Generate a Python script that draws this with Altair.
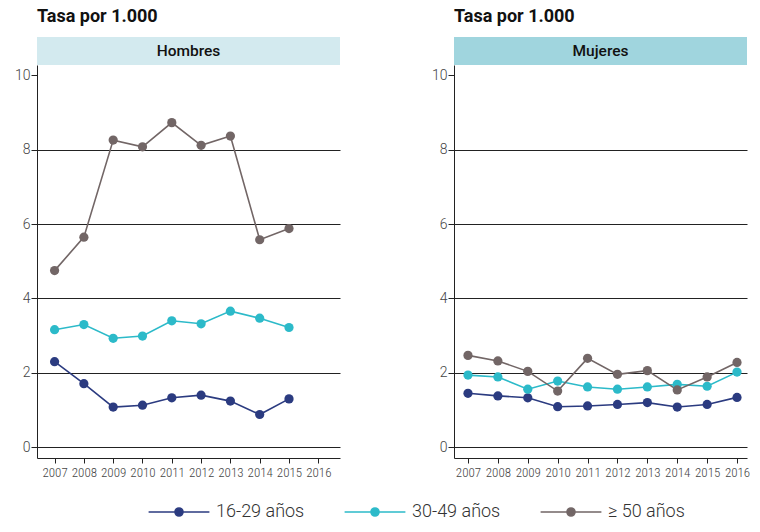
import altair as alt
import pandas as pd

years = [2007, 2008, 2009, 2010, 2011, 2012, 2013, 2014, 2015, 2016]
groups = ["16-29 años", "30-49 años", "≥ 50 años"]
colors = ["#2b3b80", "#2cbac9", "#726666"]

# Hombres (no 2016 data)
hombres_16_29 = [2.30, 1.71, 1.08, 1.13, 1.33, 1.40, 1.24, 0.88, 1.30, None]
hombres_30_49 = [3.16, 3.30, 2.93, 2.99, 3.40, 3.32, 3.66, 3.47, 3.22, None]
hombres_50 = [4.75, 5.65, 8.26, 8.08, 8.73, 8.12, 8.37, 5.58, 5.88, None]

# Mujeres
mujeres_16_29 = [1.45, 1.38, 1.33, 1.09, 1.11, 1.15, 1.20, 1.08, 1.15, 1.34]
mujeres_30_49 = [1.94, 1.89, 1.56, 1.78, 1.62, 1.56, 1.62, 1.69, 1.64, 2.02]
mujeres_50 = [2.47, 2.32, 2.04, 1.51, 2.39, 1.96, 2.06, 1.54, 1.89, 2.28]

y_ticks = [0, 2, 4, 6, 8, 10]

rows = []
for sexo, series in [("Hombres", [hombres_16_29, hombres_30_49, hombres_50]),
                     ("Mujeres", [mujeres_16_29, mujeres_30_49, mujeres_50])]:
    for g, vals in zip(groups, series):
        for yr, v in zip(years, vals):
            if v is not None:
                rows.append({"sexo": sexo, "grupo": g, "year": yr, "value": v})
df = pd.DataFrame(rows)

NARROW = "Roboto Condensed, DejaVu Sans Condensed, sans-serif"
REG = "Roboto, DejaVu Sans, sans-serif"

legend = alt.Legend(
    orient="none", direction="horizontal", title=None,
    legendX=133, legendY=466,
    symbolType="M-7.6,0L7.6,0M1,0A1,1,0,1,1,-1,0A1,1,0,1,1,1,0Z",
    symbolSize=64, symbolStrokeWidth=1.6,
    labelFont=REG, labelFontSize=18, labelFontWeight=300, labelColor="#333333",
    labelOffset=28, columnPadding=36,
)

color = alt.Color("grupo:N", scale=alt.Scale(domain=groups, range=colors), legend=legend)


def panel(sexo, strip_color, x_domain, width):
    base = alt.Chart(df[df["sexo"] == sexo])
    x = alt.X("year:Q", scale=alt.Scale(domain=x_domain, nice=False, zero=False),
              axis=alt.Axis(values=years, format="d", title=None, grid=False,
                            domainColor="#222222", tickColor="#222222", tickSize=5,
                            labelFont=NARROW, labelFontSize=13, labelFontWeight=300,
                            labelColor="#444444", labelPadding=3))
    y = alt.Y("value:Q", scale=alt.Scale(domain=[-0.29, 10.28], nice=False, zero=False),
              axis=alt.Axis(values=y_ticks, title=None, grid=True, gridColor="#222222",
                            gridOpacity=alt.expr("datum.value == 10 ? 0 : 1"),
                            domainColor="#222222", tickColor="#222222", tickSize=6,
                            labelFont=REG, labelFontSize=14, labelFontWeight=300,
                            labelColor="#444444", labelPadding=1))
    lines = base.mark_line(strokeWidth=1.6).encode(x=x, y=y, color=color)
    points = base.mark_circle(size=85, opacity=1).encode(x=x, y=y, color=color)
    plot = (lines + points).properties(width=width, height=393)
    strip = alt.Chart(pd.DataFrame({"t": [sexo]})).mark_text(
        font=REG, fontSize=15.5, fontWeight=500, color="#111111"
    ).encode(text="t:N").properties(
        width=width, height=28,
        view=alt.ViewBackground(fill=strip_color, stroke=None),
        title=alt.TitleParams("Tasa por 1.000", anchor="start", font=REG, fontSize=18,
                              fontWeight="bold", color="#111111", offset=11),
    )
    return alt.vconcat(strip, plot, spacing=0)


left = panel("Hombres", "#d3eaef", [2006.40, 2016.74], 303)
right = panel("Mujeres", "#a0d5de", [2006.532, 2016.334], 293)

chart = alt.hconcat(left, right, spacing=91).properties(
    padding={"left": 6, "top": 0, "right": 0, "bottom": 0}
).configure_view(stroke=None)

chart.save("out.html", embed_options={"renderer": "svg", "actions": False})
